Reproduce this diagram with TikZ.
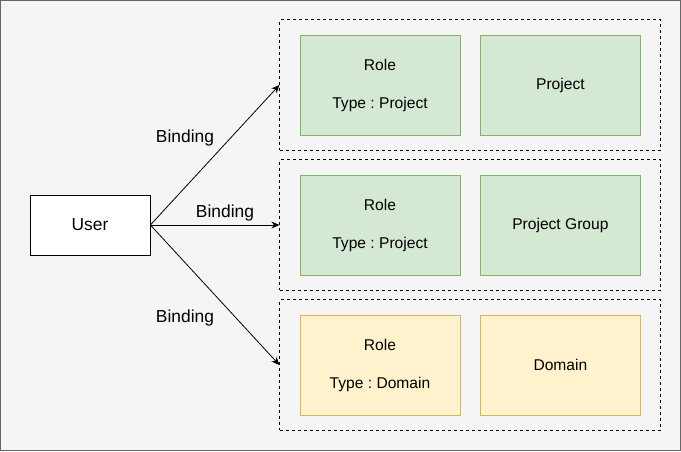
\documentclass[tikz,border=0pt]{standalone}
\usepackage{fontspec}
\setmainfont{Liberation Sans}
\usepackage{xcolor}
\usetikzlibrary{positioning,arrows.meta,fit}
\definecolor{bggray}{HTML}{F5F5F5}
\definecolor{bgline}{HTML}{666666}
\definecolor{gfill}{HTML}{D5E8D4}
\definecolor{gline}{HTML}{82B366}
\definecolor{yfill}{HTML}{FFF2CC}
\definecolor{yline}{HTML}{D6B656}
\frenchspacing

\begin{document}
\begin{tikzpicture}[x=1pt, y=-1pt,
  box/.style={rectangle, draw, fill, text centered, align=center,
    font=\fontsize{15.6}{38}\selectfont, inner sep=0pt,
    minimum width=160pt, minimum height=100pt},
  grp/.style={rectangle, draw=black, dash pattern=on 3pt off 3pt,
    line width=0.8pt, inner xsep=20pt, inner ysep=15pt},
  lbl/.style={font=\fontsize{17.4}{20}\selectfont, inner sep=0pt},
  arr/.style={-{Stealth[length=8pt,width=7pt]}, line width=0.8pt}
]
\useasboundingbox (0,0) rectangle (681,451);
\draw[bgline, fill=bggray, line width=1.2pt] (0.6,0.6) rectangle (680.4,450.4);

\node[box, draw=gline, fill=gfill] (role1) at (380,85) {Role\\Type : Project};
\node[box, draw=gline, fill=gfill, right=20pt of role1] (proj) {Project};
\node[box, draw=gline, fill=gfill] (role2) at (380,225) {Role\\Type : Project};
\node[box, draw=gline, fill=gfill, right=20pt of role2] (pgroup) {Project Group};
\node[box, draw=yline, fill=yfill] (role3) at (380,365) {Role\\Type : Domain};
\node[box, draw=yline, fill=yfill, right=20pt of role3] (dom) {Domain};

\node[grp, fit=(role1)(proj)] (g1) {};
\node[grp, fit=(role2)(pgroup)] (g2) {};
\node[grp, fit=(role3)(dom)] (g3) {};

\node[rectangle, draw=black, fill=white, line width=0.8pt, minimum width=120pt,
  minimum height=60pt, inner sep=0pt, font=\fontsize{17.4}{20}\selectfont] (user) at (90,225) {User};

\draw[arr] (user.east) -- (g1.west);
\draw[arr] (user.east) -- (g2.west);
\draw[arr] (user.east) -- (g3.west);

\node[lbl] (bind1) at (185,138) {Binding};
\node[lbl] (bind2) at (225,213) {Binding};
\node[lbl] (bind3) at (185,318) {Binding};
\end{tikzpicture}
\end{document}
